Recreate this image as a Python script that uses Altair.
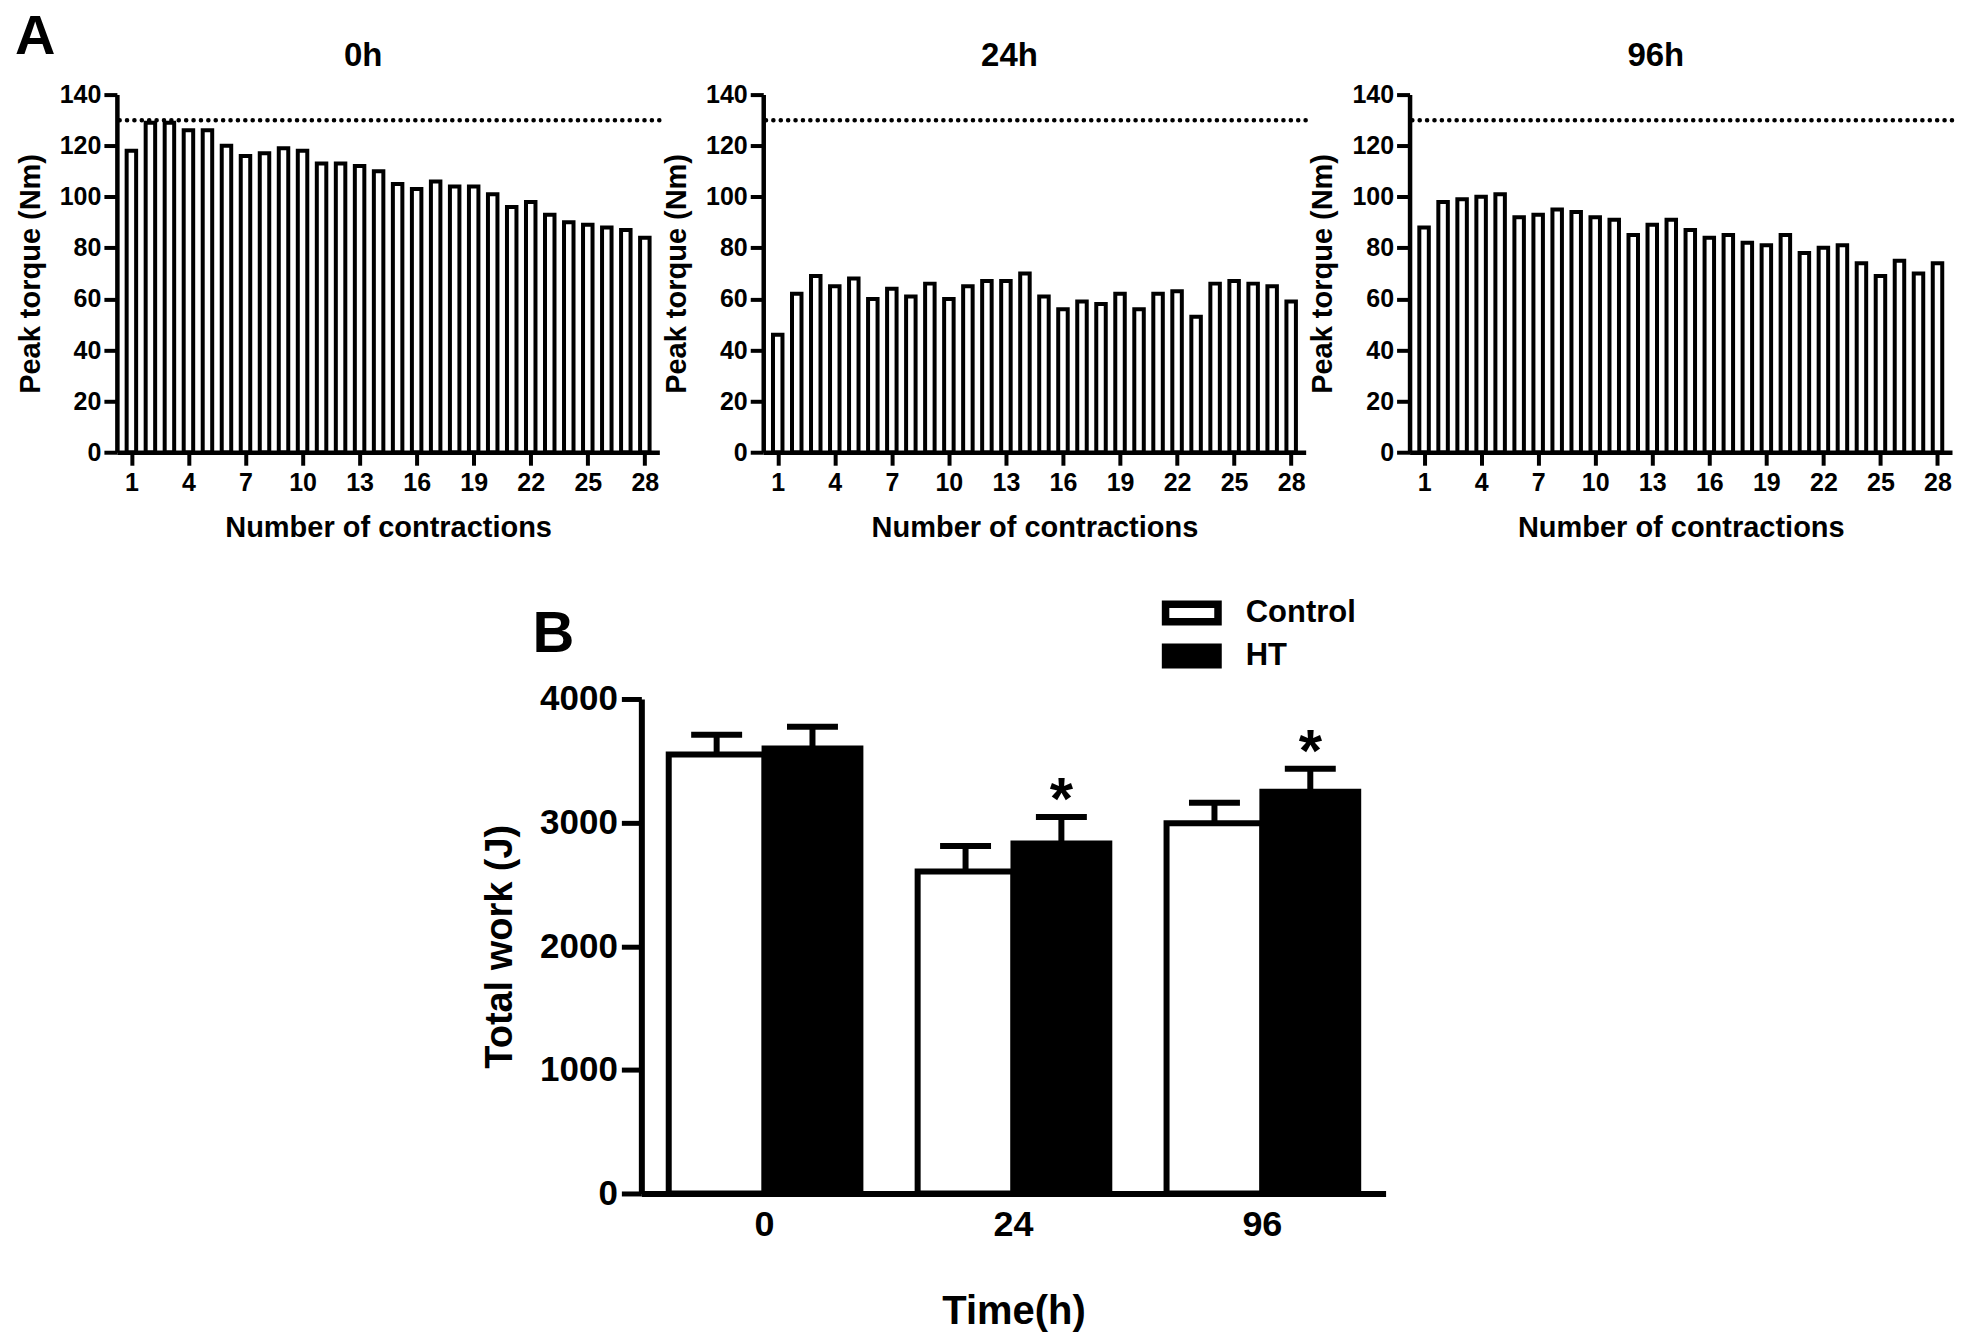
import altair as alt
import pandas as pd

# ---------------- data ----------------
contractions = list(range(1, 29))
torque_0h = [118, 129, 129, 126, 126, 120, 116, 117, 119, 118, 113, 113, 112, 110,
             105, 103, 106, 104, 104, 101, 96, 98, 93, 90, 89, 88, 87, 84]
torque_24h = [46, 62, 69, 65, 68, 60, 64, 61, 66, 60, 65, 67, 67, 70,
              61, 56, 59, 58, 62, 56, 62, 63, 53, 66, 67, 66, 65, 59]
torque_96h = [88, 98, 99, 100, 101, 92, 93, 95, 94, 92, 91, 85, 89, 91,
              87, 84, 85, 82, 81, 85, 78, 80, 81, 74, 69, 75, 70, 74]
panel_names = ["0h", "24h", "96h"]
reference_torque = 130
torque_ticks = [0, 20, 40, 60, 80, 100, 120, 140]
contraction_ticks = [1, 4, 7, 10, 13, 16, 19, 22, 25, 28]

time_labels = ["0", "24", "96"]
groups = ["Control", "HT"]
work_control = [3550, 2605, 2995]
work_ht = [3600, 2830, 3250]
err_control = [160, 205, 165]
err_ht = [175, 215, 185]
stars_control = ["", "", ""]
stars_ht = ["", "*", "*"]
work_ticks = [0, 1000, 2000, 3000, 4000]

FONT = "Liberation Sans, Arial, Helvetica, sans-serif"
PW = 543   # panel plot width
PH = 358   # panel plot height


def panel(values, name, letter=None):
    df = pd.DataFrame({"n": contractions, "torque": values})
    x = alt.X("n:Q",
              scale=alt.Scale(domain=[0.5, 28.5], nice=False, zero=False),
              axis=alt.Axis(values=contraction_ticks, title="Number of contractions",
                            labelFontSize=25, titleFontSize=29, tickSize=13, tickWidth=4,
                            domainWidth=4.5, labelPadding=5, titlePadding=18,
                            labelFlush=False, labelOverlap=False))
    y = alt.Y("torque:Q",
              scale=alt.Scale(domain=[0, 140], nice=False),
              axis=alt.Axis(values=torque_ticks, title="Peak torque (Nm)",
                            labelFontSize=25, titleFontSize=29, tickSize=13, tickWidth=4,
                            domainWidth=4.5, labelPadding=3, titlePadding=14,
                            labelOverlap=False))
    bars = alt.Chart(df).mark_bar(width=9.5, fill="white", stroke="black",
                                  strokeWidth=4, strokeJoin="miter").encode(x=x, y=y)
    ref = alt.Chart(pd.DataFrame({"torque": [reference_torque]})).mark_rule(
        color="black", strokeWidth=4.5, strokeDash=[0.1, 7.3], strokeCap="round"
    ).encode(y=alt.Y("torque:Q"))
    title = alt.Chart(pd.DataFrame({"t": [name]})).mark_text(
        fontSize=33, fontWeight="bold", font=FONT, color="black",
        align="center", baseline="alphabetic"
    ).encode(text="t:N", x=alt.value(PW / 2 - 25), y=alt.value(-29))
    layers = [bars, ref, title]
    if letter:
        lt = alt.Chart(pd.DataFrame({"t": [letter]})).mark_text(
            fontSize=56, fontWeight="bold", font=FONT, color="black",
            align="left", baseline="alphabetic"
        ).encode(text="t:N", x=alt.value(-102), y=alt.value(-41))
        layers.append(lt)
    return alt.layer(*layers).properties(width=PW, height=PH)


top = alt.hconcat(panel(torque_0h, panel_names[0], "A"),
                  panel(torque_24h, panel_names[1]),
                  panel(torque_96h, panel_names[2]), spacing=0)

# ---------------- panel B ----------------
dfB = pd.DataFrame({
    "time": time_labels * 2,
    "group": [groups[0]] * 3 + [groups[1]] * 3,
    "work": work_control + work_ht,
    "err": err_control + err_ht,
    "star": stars_control + stars_ht,
})

bx = alt.X("time:N", sort=time_labels,
           scale=alt.Scale(paddingInner=0.23, paddingOuter=0.11),
           axis=alt.Axis(title="Time(h)", labelAngle=0, ticks=False,
                         labelFontSize=36, titleFontSize=40, domainWidth=6,
                         labelPadding=14, titlePadding=49))
bxo = alt.XOffset("group:N", sort=groups)
by = alt.Y("work:Q", stack=None,
           scale=alt.Scale(domain=[0, 4000], nice=False),
           axis=alt.Axis(values=work_ticks, title="Total work (J)", format="d",
                         labelFontSize=35, titleFontSize=38, tickSize=20, tickWidth=5,
                         domainWidth=6, labelPadding=4, titlePadding=20,
                         labelOverlap=False))

base = alt.Chart(dfB).transform_calculate(upper="datum.work + datum.err")

err_line = base.mark_rule(color="black", strokeWidth=6, opacity=1).encode(
    x=bx, xOffset=bxo, y=by, y2="upper:Q")
bars_b = base.mark_bar(stroke="black", strokeWidth=6, strokeJoin="miter", opacity=1).encode(
    x=bx, xOffset=bxo, y=by,
    color=alt.Color("group:N", sort=groups,
                    scale=alt.Scale(domain=groups, range=["white", "black"]),
                    legend=alt.Legend(title=None, orient="none", legendX=1057, legendY=500,
                                      symbolType="M-1.75,-0.58H1.75V0.58H-1.75Z",
                                      symbolSize=900, symbolStrokeColor="black",
                                      symbolStrokeWidth=7.5, symbolOpacity=1,
                                      labelFontSize=31, labelFont=FONT,
                                      labelFontWeight="bold", labelColor="black",
                                      labelOffset=35, rowPadding=-8, padding=0)))
caps = base.mark_tick(color="black", thickness=6, size=51, orient="horizontal",
                      opacity=1).encode(
    x=bx, xOffset=bxo, y=alt.Y("upper:Q"))
stars = base.mark_text(fontSize=60, fontWeight="bold", font=FONT, color="black",
                       baseline="alphabetic", dy=2).encode(
    x=bx, xOffset=bxo, y=alt.Y("upper:Q"), text="star:N")
letterB = alt.Chart(pd.DataFrame({"t": ["B"]})).mark_text(
    fontSize=58, fontWeight="bold", font=FONT, color="black",
    align="left", baseline="alphabetic"
).encode(text="t:N", x=alt.value(-109), y=alt.value(-47))

chartB = alt.layer(err_line, bars_b, caps, stars, letterB).properties(width=745, height=495)

spacer = alt.Chart(pd.DataFrame({"s": [0]})).mark_point(opacity=0).encode(
    x=alt.X("s:Q", axis=None), y=alt.Y("s:Q", axis=None)
).properties(width=365, height=1)

bottom = alt.hconcat(spacer, chartB, spacing=0)

chart = alt.vconcat(top, bottom, spacing=64).properties(
    padding={"left": 7, "top": 0, "right": 5, "bottom": 5}
).configure_view(stroke=None).configure_axis(
    grid=False, domainColor="black", tickColor="black", labelColor="black",
    titleColor="black", labelFont=FONT, titleFont=FONT,
    labelFontWeight="bold", titleFontWeight="bold"
)

chart.save("out.html", embed_options={"renderer": "svg", "actions": False})
